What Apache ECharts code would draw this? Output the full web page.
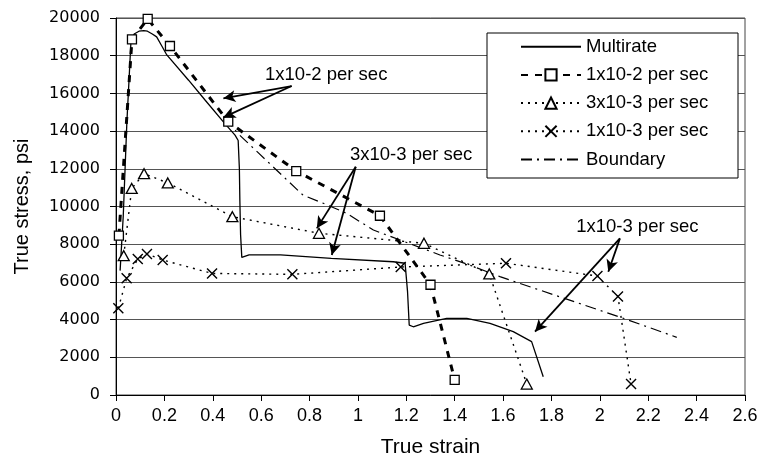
<!DOCTYPE html>
<html><head><meta charset="utf-8">
<script src="https://cdn.jsdelivr.net/npm/echarts@6/dist/echarts.min.js"></script>
<style>html,body{margin:0;padding:0;background:#fff}#c{width:761px;height:460px}</style>
</head><body><div id="c"></div>
<script>
// ---- data ----
const seriesNames = ['Multirate', '1x10-2 per sec', '3x10-3 per sec', '1x10-3 per sec', 'Boundary'];
const multirate = [[0.017,6600],[0.03,9500],[0.045,14500],[0.055,17000],[0.062,18800],[0.075,19150],[0.095,19300],[0.115,19330],[0.13,19300],[0.15,19150],[0.168,19000],[0.19,18500],[0.21,18040],[0.3,16700],[0.368,15650],[0.45,14400],[0.492,13790],[0.505,13500],[0.51,12000],[0.512,10300],[0.515,8500],[0.52,7300],[0.55,7430],[0.68,7430],[0.89,7250],[1.146,7070],[1.195,6990],[1.2,6900],[1.205,5500],[1.212,3710],[1.229,3620],[1.271,3800],[1.367,4070],[1.45,4070],[1.546,3800],[1.642,3360],[1.718,2830],[1.766,970]];
const rate1e2 = [[0.012,8450],[0.066,18870],[0.131,19950],[0.223,18515],[0.464,14500],[0.745,11880],[1.091,9510],[1.30,5850],[1.40,800]];
const rate3e3 = [[0.032,7390],[0.065,10960],[0.116,11740],[0.214,11250],[0.481,9460],[0.839,8580],[1.273,8050],[1.543,6420],[1.698,580]];
const rate1e3 = [[0.0096,4600],[0.044,6190],[0.09,7210],[0.128,7480],[0.193,7160],[0.397,6450],[0.729,6400],[1.177,6790],[1.612,6990],[1.99,6310],[2.075,5220],[2.129,580]];
const boundary = [[0.45,14700],[0.506,13850],[0.773,10600],[0.857,10170],[0.953,9640],[1.064,8750],[1.339,7430],[1.45,6950],[1.587,6280],[2.097,4070],[2.318,3060]];
const xTickLabels = ['0','0.2','0.4','0.6','0.8','1','1.2','1.4','1.6','1.8','2','2.2','2.4','2.6'];
const yTickLabels = ['0','2000','4000','6000','8000','10000','12000','14000','16000','18000','20000'];
// annotations: label text, label anchor [x,y], arrow start, arrow ends
const annoTexts = ['1x10-2 per sec', '3x10-3 per sec', '1x10-3 per sec'];
const annoLabelPos = [[0.616,16980],[0.967,12730],[1.902,8900]];
const annoArrowStart = [[0.726,16390],[0.991,12110],[2.083,8310]];
const annoArrowEnds = [[[0.444,15740],[0.444,14730]], [[0.830,8840],[0.892,7430]], [[1.732,3360],[2.035,6540]]];

const chart = echarts.init(document.getElementById('c'), null, {renderer:'canvas'});
const F = 'Liberation Sans, Arial, sans-serif';
const crossPath = 'path://M0,0L10,10M10,0L0,10';

const arrowData = [];
annoArrowStart.forEach((s, i) => {
  annoArrowEnds[i].forEach(e => arrowData.push([{coord: s}, {coord: e}]));
});

const noMarker = {opacity: 0};
const option = {
  animation: false,
  backgroundColor: '#fff',
  grid: {left: 116, right: 16, top: 18, bottom: 65, outerBoundsMode: 'none', containLabel: false,
    show: true, borderColor: '#444', borderWidth: 1, backgroundColor: 'transparent'},
  xAxis: {
    type: 'value', min: 0, max: 2.6, interval: 0.2,
    name: 'True strain', nameLocation: 'middle', nameGap: 42,
    nameTextStyle: {fontFamily: F, fontSize: 21, color: '#000'},
    axisLine: {show: true, lineStyle: {color: '#000', width: 1}},
    axisTick: {show: true, length: 6, lineStyle: {color: '#000'}},
    axisLabel: {fontFamily: F, fontSize: 18, color: '#000', margin: 12,
      formatter: v => xTickLabels[Math.round(v / 0.2)]},
    splitLine: {show: false}
  },
  yAxis: {
    type: 'value', min: 0, max: 20000, interval: 2000,
    name: 'True stress, psi', nameLocation: 'middle', nameGap: 84,
    nameTextStyle: {fontFamily: F, fontSize: 20, color: '#000'},
    axisLine: {show: true, lineStyle: {color: '#000', width: 1}},
    axisTick: {show: true, length: 6, lineStyle: {color: '#000'}},
    axisLabel: {fontFamily: 'DejaVu Sans, sans-serif', fontSize: 16, color: '#000', margin: 16,
      formatter: v => yTickLabels[Math.round(v / 2000)]},
    splitLine: {show: true, lineStyle: {color: '#555', width: 1.2}}
  },
  legend: {
    orient: 'vertical', left: 520, top: 36.7, padding: 0, z: 60,
    itemWidth: 60, itemHeight: 14, itemGap: 8.2,
    textStyle: {fontFamily: F, fontSize: 18.5, color: '#000', lineHeight: 20},
    data: [
      {name: seriesNames[0], itemStyle: noMarker},
      seriesNames[1], seriesNames[2], seriesNames[3],
      {name: seriesNames[4], itemStyle: noMarker}
    ]
  },
  series: [
    {name: seriesNames[0], type: 'line', data: multirate, showSymbol: false, symbol: 'none',
     lineStyle: {color: '#000', width: 1.3}, itemStyle: {color: '#000'},
     markLine: {silent: true, symbol: ['none', 'arrow'], symbolSize: [9, 12], label: {show: false},
       lineStyle: {color: '#000', width: 1.8, type: 'solid'}, emphasis: {disabled: true}, data: arrowData}},
    {name: seriesNames[1], type: 'line', data: rate1e2, symbol: 'rect', symbolSize: 9,
     lineStyle: {color: '#000', width: 3, type: [7, 7]}, itemStyle: {color: '#fff', borderColor: '#000', borderWidth: 1.3}},
    {name: seriesNames[2], type: 'line', data: rate3e3, symbol: 'triangle', symbolSize: [11, 10],
     lineStyle: {color: '#000', width: 1.4, type: [2, 5]}, itemStyle: {color: '#fff', borderColor: '#000', borderWidth: 1.3}},
    {name: seriesNames[3], type: 'line', data: rate1e3, symbol: crossPath, symbolSize: 10, symbolKeepAspect: true,
     lineStyle: {color: '#000', width: 1.4, type: [2, 5]}, itemStyle: {color: '#fff', borderColor: '#000', borderWidth: 1.4}},
    {name: seriesNames[4], type: 'line', data: boundary, symbol: 'none', showSymbol: false,
     lineStyle: {color: '#000', width: 1.2, type: [11, 5, 2, 5]}, itemStyle: {color: '#000'}}
  ]
};
chart.setOption(option);

const graphics = [{type: 'rect', z: 50, shape: {x: 487, y: 33, width: 251, height: 145},
  style: {fill: '#fff', stroke: '#000', lineWidth: 1}}];
annoTexts.forEach((t, i) => {
  const p = chart.convertToPixel({gridIndex: 0}, annoLabelPos[i]);
  graphics.push({type: 'text', z: 55, x: p[0], y: p[1],
    style: {text: t, fontFamily: F, fontSize: 18.5, fill: '#000', textAlign: 'left', textVerticalAlign: 'middle'}});
});
chart.setOption({graphic: graphics});
</script>
</body></html>
